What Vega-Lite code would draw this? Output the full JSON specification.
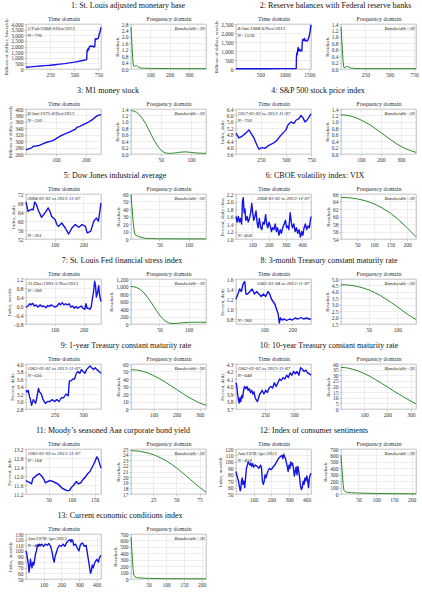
{
"$schema": "https://vega.github.io/schema/vega-lite/v6.json",
"padding": {"left": 3, "top": 1, "right": 0, "bottom": 0},
"bounds": "flush",
"columns": 4,
"spacing": {"row": 40, "column": 30},
"datasets": {
"t1": [{"x":1,"y":150},{"x":50,"y":190},{"x":100,"y":230},{"x":150,"y":270},{"x":200,"y":300},{"x":250,"y":330},{"x":300,"y":380},{"x":350,"y":430},{"x":400,"y":480},{"x":450,"y":540},{"x":500,"y":610},{"x":550,"y":690},{"x":600,"y":780},{"x":628,"y":830},{"x":631,"y":1500},{"x":634,"y":1700},{"x":638,"y":1600},{"x":642,"y":1800},{"x":648,"y":1700},{"x":655,"y":1950},{"x":665,"y":2050},{"x":675,"y":2000},{"x":690,"y":2050},{"x":700,"y":1950},{"x":712,"y":2000},{"x":716,"y":2650},{"x":722,"y":2700},{"x":730,"y":2650},{"x":740,"y":2700},{"x":748,"y":2750},{"x":755,"y":3000},{"x":762,"y":3200},{"x":770,"y":3450},{"x":776,"y":3700}],
"f1": [{"x":1,"y":2.6},{"x":3,"y":2.2},{"x":6,"y":1.5},{"x":9,"y":0.8},{"x":12,"y":0.35},{"x":15,"y":0.18},{"x":20,"y":0.15},{"x":25,"y":0.2},{"x":30,"y":0.22},{"x":35,"y":0.17},{"x":40,"y":0.1},{"x":50,"y":0.06},{"x":70,"y":0.05},{"x":100,"y":0.04},{"x":150,"y":0.03},{"x":200,"y":0.03},{"x":250,"y":0.02},{"x":300,"y":0.02},{"x":388,"y":0.02}],
"t2": [{"x":1,"y":15},{"x":300,"y":15},{"x":600,"y":18},{"x":900,"y":20},{"x":1100,"y":22},{"x":1235,"y":25},{"x":1240,"y":700},{"x":1250,"y":900},{"x":1258,"y":800},{"x":1265,"y":1050},{"x":1275,"y":1200},{"x":1285,"y":1000},{"x":1300,"y":1100},{"x":1315,"y":1000},{"x":1335,"y":1050},{"x":1350,"y":1000},{"x":1360,"y":1500},{"x":1372,"y":1650},{"x":1390,"y":1600},{"x":1405,"y":1700},{"x":1420,"y":1550},{"x":1440,"y":1600},{"x":1460,"y":1550},{"x":1480,"y":1650},{"x":1500,"y":1800},{"x":1520,"y":2100},{"x":1538,"y":2450}],
"f2": [{"x":1,"y":1.3},{"x":8,"y":1.0},{"x":15,"y":0.6},{"x":22,"y":0.25},{"x":30,"y":0.05},{"x":40,"y":0.04},{"x":55,"y":0.07},{"x":70,"y":0.08},{"x":85,"y":0.05},{"x":100,"y":0.03},{"x":130,"y":0.02},{"x":200,"y":0.01},{"x":769,"y":0.01}],
"t3": [{"x":1,"y":273},{"x":10,"y":276},{"x":20,"y":279},{"x":25,"y":284},{"x":35,"y":285},{"x":45,"y":287},{"x":55,"y":291},{"x":65,"y":295},{"x":75,"y":298},{"x":85,"y":300},{"x":95,"y":304},{"x":105,"y":310},{"x":115,"y":316},{"x":125,"y":320},{"x":135,"y":324},{"x":145,"y":328},{"x":155,"y":333},{"x":165,"y":337},{"x":170,"y":343},{"x":180,"y":346},{"x":190,"y":351},{"x":200,"y":355},{"x":210,"y":360},{"x":220,"y":366},{"x":230,"y":374},{"x":240,"y":380},{"x":250,"y":382}],
"f3": [{"x":1,"y":1.35},{"x":5,"y":1.34},{"x":10,"y":1.3},{"x":15,"y":1.22},{"x":20,"y":1.1},{"x":25,"y":0.95},{"x":30,"y":0.77},{"x":35,"y":0.58},{"x":40,"y":0.4},{"x":45,"y":0.25},{"x":50,"y":0.13},{"x":55,"y":0.06},{"x":60,"y":0.025},{"x":65,"y":0.02},{"x":70,"y":0.025},{"x":75,"y":0.035},{"x":80,"y":0.05},{"x":85,"y":0.06},{"x":90,"y":0.065},{"x":95,"y":0.06},{"x":100,"y":0.05},{"x":105,"y":0.04},{"x":110,"y":0.03},{"x":115,"y":0.025},{"x":125,"y":0.02}],
"t4": [{"x":1,"y":4.9},{"x":30,"y":4.6},{"x":60,"y":4.7},{"x":100,"y":4.9},{"x":130,"y":5.1},{"x":150,"y":4.9},{"x":180,"y":4.6},{"x":200,"y":4.3},{"x":230,"y":3.9},{"x":260,"y":4.0},{"x":290,"y":3.95},{"x":320,"y":4.1},{"x":350,"y":4.2},{"x":380,"y":4.3},{"x":410,"y":4.45},{"x":440,"y":4.7},{"x":470,"y":4.9},{"x":500,"y":5.1},{"x":520,"y":5.4},{"x":550,"y":5.6},{"x":580,"y":5.5},{"x":600,"y":5.7},{"x":630,"y":5.8},{"x":650,"y":6.0},{"x":670,"y":5.85},{"x":690,"y":5.6},{"x":710,"y":5.7},{"x":730,"y":5.9},{"x":750,"y":6.1}],
"f4": [{"x":1,"y":1.22},{"x":25,"y":1.21},{"x":50,"y":1.18},{"x":75,"y":1.13},{"x":100,"y":1.06},{"x":125,"y":0.98},{"x":150,"y":0.89},{"x":175,"y":0.78},{"x":200,"y":0.67},{"x":225,"y":0.55},{"x":250,"y":0.44},{"x":275,"y":0.33},{"x":300,"y":0.24},{"x":325,"y":0.16},{"x":350,"y":0.1},{"x":375,"y":0.05}],
"t5": [{"x":1,"y":68.5},{"x":8,"y":64.3},{"x":14,"y":64.8},{"x":20,"y":65.2},{"x":26,"y":65},{"x":31,"y":68.5},{"x":37,"y":67.3},{"x":43,"y":65},{"x":55,"y":61.6},{"x":67,"y":63.6},{"x":78,"y":65.8},{"x":84,"y":64.3},{"x":90,"y":62},{"x":96,"y":61.3},{"x":102,"y":60.6},{"x":108,"y":58.4},{"x":113,"y":57.6},{"x":125,"y":59.1},{"x":137,"y":56.9},{"x":149,"y":54.2},{"x":160,"y":56.9},{"x":172,"y":58.4},{"x":184,"y":57.2},{"x":195,"y":58.4},{"x":207,"y":57.6},{"x":213,"y":54.7},{"x":225,"y":55.4},{"x":236,"y":59.9},{"x":245,"y":61.3},{"x":252,"y":59.9},{"x":261,"y":68}],
"f5": [{"x":1,"y":59},{"x":3,"y":40},{"x":5,"y":20},{"x":7,"y":8},{"x":9,"y":5},{"x":12,"y":4},{"x":15,"y":3},{"x":20,"y":2},{"x":25,"y":1},{"x":35,"y":0.6},{"x":50,"y":0.3},{"x":80,"y":0.2},{"x":130,"y":0.1}],
"t6": [{"x":1,"y":1.6},{"x":8,"y":1.45},{"x":15,"y":1.6},{"x":22,"y":1.45},{"x":28,"y":1.55},{"x":35,"y":1.4},{"x":40,"y":2.0},{"x":45,"y":2.1},{"x":50,"y":1.7},{"x":55,"y":1.8},{"x":60,"y":1.5},{"x":68,"y":1.6},{"x":75,"y":1.45},{"x":82,"y":1.55},{"x":90,"y":1.7},{"x":96,"y":1.95},{"x":102,"y":1.7},{"x":108,"y":1.5},{"x":115,"y":1.6},{"x":122,"y":1.75},{"x":128,"y":1.45},{"x":135,"y":1.3},{"x":142,"y":1.55},{"x":150,"y":1.3},{"x":157,"y":1.25},{"x":164,"y":1.45},{"x":172,"y":1.4},{"x":180,"y":1.65},{"x":186,"y":1.4},{"x":193,"y":1.3},{"x":200,"y":1.45},{"x":208,"y":1.35},{"x":215,"y":1.2},{"x":222,"y":1.3},{"x":230,"y":1.25},{"x":238,"y":1.4},{"x":245,"y":1.2},{"x":252,"y":1.3},{"x":260,"y":1.1},{"x":268,"y":1.25},{"x":275,"y":1.15},{"x":283,"y":1.3},{"x":292,"y":1.4},{"x":300,"y":1.5},{"x":306,"y":1.3},{"x":313,"y":1.35},{"x":320,"y":1.25},{"x":328,"y":1.7},{"x":335,"y":1.45},{"x":342,"y":1.3},{"x":350,"y":1.4},{"x":358,"y":1.2},{"x":366,"y":1.3},{"x":374,"y":1.15},{"x":382,"y":1.25},{"x":390,"y":1.05},{"x":398,"y":1.2},{"x":405,"y":1.1},{"x":412,"y":1.3},{"x":420,"y":1.4},{"x":428,"y":1.25},{"x":436,"y":1.35},{"x":444,"y":1.3},{"x":450,"y":1.5},{"x":454,"y":1.6}],
"f6": [{"x":1,"y":65.1},{"x":25,"y":65.0},{"x":50,"y":64.7},{"x":75,"y":64.2},{"x":100,"y":63.4},{"x":125,"y":62.3},{"x":150,"y":60.9},{"x":175,"y":59.1},{"x":200,"y":57.0},{"x":227,"y":54.6}],
"t7": [{"x":1,"y":-0.05},{"x":8,"y":0.0},{"x":14,"y":0.1},{"x":18,"y":0.05},{"x":24,"y":0.12},{"x":30,"y":0.0},{"x":36,"y":0.05},{"x":42,"y":-0.05},{"x":50,"y":0.05},{"x":56,"y":-0.02},{"x":62,"y":0.0},{"x":70,"y":-0.08},{"x":76,"y":0.02},{"x":82,"y":-0.02},{"x":88,"y":0.05},{"x":95,"y":0.0},{"x":100,"y":-0.05},{"x":108,"y":0.0},{"x":115,"y":0.12},{"x":120,"y":0.05},{"x":126,"y":0.15},{"x":132,"y":0.05},{"x":138,"y":0.1},{"x":144,"y":0.05},{"x":150,"y":0.1},{"x":156,"y":-0.05},{"x":162,"y":0.0},{"x":168,"y":-0.1},{"x":174,"y":-0.02},{"x":180,"y":-0.1},{"x":186,"y":-0.05},{"x":192,"y":0.0},{"x":198,"y":-0.1},{"x":204,"y":-0.15},{"x":208,"y":0.1},{"x":212,"y":-0.1},{"x":216,"y":-0.1},{"x":222,"y":-0.15},{"x":226,"y":-0.05},{"x":230,"y":0.3},{"x":234,"y":0.6},{"x":238,"y":1.1},{"x":241,"y":0.9},{"x":244,"y":0.4},{"x":248,"y":0.6},{"x":252,"y":0.9},{"x":255,"y":0.5},{"x":258,"y":0.3},{"x":260,"y":0.2}],
"f7": [{"x":1,"y":1000},{"x":5,"y":995},{"x":10,"y":975},{"x":15,"y":940},{"x":20,"y":880},{"x":25,"y":800},{"x":30,"y":700},{"x":35,"y":590},{"x":40,"y":470},{"x":45,"y":350},{"x":50,"y":240},{"x":55,"y":150},{"x":60,"y":80},{"x":65,"y":35},{"x":70,"y":15},{"x":75,"y":12},{"x":80,"y":18},{"x":90,"y":35},{"x":100,"y":45},{"x":110,"y":48},{"x":120,"y":47},{"x":130,"y":45}],
"t8": [{"x":1,"y":1.2},{"x":8,"y":1.3},{"x":14,"y":1.4},{"x":20,"y":1.35},{"x":26,"y":1.5},{"x":32,"y":1.55},{"x":36,"y":1.3},{"x":42,"y":1.3},{"x":50,"y":1.35},{"x":58,"y":1.4},{"x":66,"y":1.3},{"x":74,"y":1.35},{"x":82,"y":1.3},{"x":90,"y":1.25},{"x":98,"y":1.3},{"x":106,"y":1.25},{"x":114,"y":1.35},{"x":120,"y":1.3},{"x":126,"y":1.2},{"x":132,"y":1.15},{"x":138,"y":1.1},{"x":144,"y":1.0},{"x":150,"y":0.9},{"x":154,"y":0.72},{"x":158,"y":0.82},{"x":164,"y":0.78},{"x":172,"y":0.8},{"x":180,"y":0.77},{"x":190,"y":0.8},{"x":200,"y":0.78},{"x":210,"y":0.82},{"x":220,"y":0.8},{"x":230,"y":0.83},{"x":240,"y":0.8},{"x":250,"y":0.82},{"x":258,"y":0.8},{"x":266,"y":0.8}],
"f8": [{"x":1,"y":4.55},{"x":10,"y":4.54},{"x":20,"y":4.5},{"x":30,"y":4.42},{"x":40,"y":4.3},{"x":50,"y":4.15},{"x":60,"y":3.95},{"x":70,"y":3.72},{"x":80,"y":3.45},{"x":90,"y":3.15},{"x":100,"y":2.85},{"x":110,"y":2.52},{"x":120,"y":2.2},{"x":133,"y":1.85}],
"t9": [{"x":1,"y":3.3},{"x":10,"y":3.25},{"x":20,"y":3.3},{"x":30,"y":3.15},{"x":40,"y":3.05},{"x":50,"y":2.9},{"x":55,"y":2.95},{"x":65,"y":3.05},{"x":75,"y":3.0},{"x":85,"y":2.95},{"x":95,"y":3.1},{"x":110,"y":3.35},{"x":120,"y":3.25},{"x":135,"y":3.2},{"x":150,"y":3.05},{"x":170,"y":2.95},{"x":190,"y":3.0},{"x":210,"y":3.0},{"x":230,"y":3.05},{"x":250,"y":3.0},{"x":270,"y":3.05},{"x":290,"y":3.0},{"x":310,"y":3.1},{"x":330,"y":3.1},{"x":350,"y":3.2},{"x":370,"y":3.15},{"x":380,"y":3.55},{"x":395,"y":3.55},{"x":410,"y":3.6},{"x":425,"y":3.6},{"x":440,"y":3.75},{"x":455,"y":3.8},{"x":470,"y":3.75},{"x":485,"y":3.85},{"x":500,"y":3.8},{"x":515,"y":3.75},{"x":530,"y":3.85},{"x":545,"y":3.9},{"x":560,"y":3.95},{"x":575,"y":3.9},{"x":590,"y":3.85},{"x":605,"y":3.9},{"x":620,"y":3.85},{"x":640,"y":3.8},{"x":656,"y":3.75}],
"f9": [{"x":1,"y":52.5},{"x":25,"y":52},{"x":50,"y":50.5},{"x":75,"y":48},{"x":100,"y":44.5},{"x":125,"y":40.5},{"x":150,"y":36},{"x":175,"y":31},{"x":200,"y":26},{"x":225,"y":21},{"x":250,"y":16},{"x":275,"y":12},{"x":300,"y":8},{"x":328,"y":5}],
"t10": [{"x":1,"y":4.05},{"x":8,"y":4.0},{"x":15,"y":3.9},{"x":22,"y":3.82},{"x":28,"y":3.78},{"x":35,"y":3.85},{"x":42,"y":3.8},{"x":50,"y":3.88},{"x":58,"y":3.85},{"x":66,"y":3.95},{"x":75,"y":4.0},{"x":85,"y":3.97},{"x":95,"y":4.0},{"x":105,"y":3.95},{"x":115,"y":3.97},{"x":125,"y":3.92},{"x":135,"y":3.95},{"x":145,"y":3.9},{"x":155,"y":3.93},{"x":165,"y":3.85},{"x":175,"y":3.82},{"x":185,"y":3.8},{"x":195,"y":3.85},{"x":205,"y":3.9},{"x":215,"y":3.92},{"x":225,"y":3.95},{"x":240,"y":3.9},{"x":255,"y":3.95},{"x":270,"y":3.92},{"x":285,"y":3.98},{"x":300,"y":4.0},{"x":315,"y":3.98},{"x":330,"y":4.05},{"x":345,"y":4.0},{"x":360,"y":4.05},{"x":375,"y":4.1},{"x":390,"y":4.08},{"x":405,"y":4.12},{"x":420,"y":4.1},{"x":435,"y":4.15},{"x":450,"y":4.12},{"x":465,"y":4.18},{"x":480,"y":4.15},{"x":495,"y":4.2},{"x":510,"y":4.17},{"x":525,"y":4.2},{"x":540,"y":4.15},{"x":555,"y":4.25},{"x":570,"y":4.23},{"x":585,"y":4.2},{"x":600,"y":4.22},{"x":615,"y":4.18},{"x":630,"y":4.17},{"x":644,"y":4.15}],
"f10": [{"x":1,"y":37},{"x":25,"y":36.6},{"x":50,"y":35.5},{"x":75,"y":33.8},{"x":100,"y":31.6},{"x":125,"y":29},{"x":150,"y":26},{"x":175,"y":22.8},{"x":200,"y":19.5},{"x":225,"y":16.2},{"x":250,"y":13},{"x":275,"y":10},{"x":300,"y":7},{"x":322,"y":4.5}],
"t11": [{"x":1,"y":11.8},{"x":5,"y":11.75},{"x":10,"y":11.7},{"x":13,"y":11.65},{"x":16,"y":11.9},{"x":20,"y":11.95},{"x":25,"y":12.05},{"x":30,"y":12.1},{"x":35,"y":12.0},{"x":40,"y":11.85},{"x":43,"y":11.7},{"x":48,"y":11.75},{"x":53,"y":11.8},{"x":60,"y":11.75},{"x":65,"y":11.7},{"x":70,"y":11.65},{"x":75,"y":11.55},{"x":80,"y":11.45},{"x":85,"y":11.4},{"x":90,"y":11.35},{"x":95,"y":11.35},{"x":100,"y":11.5},{"x":105,"y":11.6},{"x":110,"y":11.75},{"x":115,"y":11.65},{"x":120,"y":11.7},{"x":125,"y":11.85},{"x":130,"y":11.95},{"x":135,"y":12.1},{"x":140,"y":12.2},{"x":145,"y":12.4},{"x":150,"y":12.6},{"x":155,"y":12.85},{"x":158,"y":12.75},{"x":161,"y":12.55},{"x":164,"y":12.35}],
"f11": [{"x":1,"y":24.7},{"x":5,"y":24.68},{"x":10,"y":24.6},{"x":15,"y":24.45},{"x":20,"y":24.25},{"x":25,"y":24.0},{"x":30,"y":23.65},{"x":35,"y":23.25},{"x":40,"y":22.8},{"x":45,"y":22.25},{"x":50,"y":21.65},{"x":55,"y":21.0},{"x":60,"y":20.3},{"x":65,"y":19.6},{"x":70,"y":18.9},{"x":75,"y":18.2},{"x":82,"y":17.3}],
"t12": [{"x":1,"y":85},{"x":5,"y":80},{"x":10,"y":75},{"x":15,"y":70},{"x":20,"y":62},{"x":25,"y":55},{"x":28,"y":58},{"x":32,"y":70},{"x":36,"y":75},{"x":40,"y":65},{"x":45,"y":70},{"x":50,"y":60},{"x":55,"y":75},{"x":60,"y":90},{"x":65,"y":95},{"x":70,"y":100},{"x":75,"y":97},{"x":80,"y":95},{"x":85,"y":98},{"x":90,"y":93},{"x":95,"y":97},{"x":100,"y":92},{"x":110,"y":95},{"x":120,"y":93},{"x":130,"y":90},{"x":140,"y":95},{"x":145,"y":90},{"x":150,"y":70},{"x":155,"y":65},{"x":160,"y":70},{"x":165,"y":80},{"x":170,"y":75},{"x":180,"y":85},{"x":190,"y":90},{"x":200,"y":88},{"x":210,"y":92},{"x":220,"y":95},{"x":230,"y":100},{"x":240,"y":105},{"x":250,"y":108},{"x":260,"y":110},{"x":265,"y":105},{"x":270,"y":112},{"x":280,"y":105},{"x":290,"y":93},{"x":295,"y":85},{"x":300,"y":95},{"x":305,"y":90},{"x":310,"y":100},{"x":315,"y":95},{"x":320,"y":98},{"x":325,"y":90},{"x":330,"y":78},{"x":335,"y":85},{"x":340,"y":92},{"x":345,"y":80},{"x":350,"y":93},{"x":355,"y":85},{"x":360,"y":75},{"x":365,"y":62},{"x":370,"y":57},{"x":375,"y":60},{"x":380,"y":70},{"x":385,"y":65},{"x":390,"y":75},{"x":395,"y":70},{"x":400,"y":78},{"x":405,"y":72},{"x":410,"y":60},{"x":415,"y":75},{"x":420,"y":80},{"x":424,"y":82}],
"f12": [{"x":1,"y":600},{"x":3,"y":450},{"x":5,"y":300},{"x":7,"y":150},{"x":9,"y":60},{"x":12,"y":40},{"x":16,"y":30},{"x":20,"y":25},{"x":30,"y":20},{"x":50,"y":15},{"x":100,"y":8},{"x":150,"y":5},{"x":212,"y":3}],
"t13": [{"x":1,"y":100},{"x":5,"y":95},{"x":10,"y":85},{"x":15,"y":75},{"x":18,"y":62},{"x":22,"y":70},{"x":26,"y":85},{"x":30,"y":78},{"x":35,"y":70},{"x":40,"y":80},{"x":45,"y":75},{"x":50,"y":85},{"x":55,"y":95},{"x":60,"y":100},{"x":65,"y":110},{"x":70,"y":108},{"x":75,"y":112},{"x":80,"y":110},{"x":90,"y":112},{"x":100,"y":108},{"x":110,"y":112},{"x":120,"y":110},{"x":130,"y":113},{"x":140,"y":108},{"x":150,"y":95},{"x":155,"y":85},{"x":160,"y":80},{"x":165,"y":90},{"x":170,"y":95},{"x":175,"y":100},{"x":180,"y":105},{"x":190,"y":110},{"x":200,"y":108},{"x":210,"y":112},{"x":220,"y":108},{"x":230,"y":115},{"x":240,"y":118},{"x":250,"y":120},{"x":255,"y":116},{"x":260,"y":120},{"x":265,"y":118},{"x":270,"y":110},{"x":280,"y":112},{"x":290,"y":105},{"x":300,"y":100},{"x":305,"y":108},{"x":310,"y":112},{"x":320,"y":114},{"x":330,"y":108},{"x":340,"y":110},{"x":345,"y":100},{"x":350,"y":90},{"x":355,"y":80},{"x":360,"y":70},{"x":365,"y":60},{"x":370,"y":65},{"x":375,"y":75},{"x":380,"y":70},{"x":390,"y":80},{"x":400,"y":85},{"x":410,"y":80},{"x":415,"y":88},{"x":420,"y":90},{"x":424,"y":92}],
"f13": [{"x":1,"y":650},{"x":3,"y":500},{"x":5,"y":300},{"x":7,"y":150},{"x":9,"y":60},{"x":12,"y":35},{"x":16,"y":25},{"x":20,"y":20},{"x":30,"y":15},{"x":50,"y":10},{"x":100,"y":5},{"x":150,"y":4},{"x":212,"y":3}]
},
"concat": [
{"width":75,"height":45,"title":{"text":"1: St. Louis adjusted monetary base","dx":64.5},
 "layer":[
  {"data":{"name":"t1"},"mark":{"type":"line","color":"#1414e6","strokeWidth":1.4},
   "encoding":{"x":{"field":"x","type":"quantitative","scale":{"domain":[1,776],"nice":false,"zero":false},"axis":{"orient":"bottom","values":[250,500,750],"format":"d","title":null}},
    "y":{"field":"y","type":"quantitative","scale":{"domain":[0,4000],"nice":false,"zero":false},"axis":{"values":[0,500,1000,1500,2000,2500,3000,3500,4000],"format":",d","title":"Billions of dollars, biweekly"}}}},
  {"data":{"values":[{}]},"mark":{"type":"text","text":"1/Feb/1984-9/Oct/2013\nN=776","lineBreak":"\n","align":"left","baseline":"top","dx":1.5,"dy":1.5},
   "encoding":{"x":{"datum":1,"type":"quantitative","axis":{"orient":"top","title":"Time domain","labels":false,"ticks":false,"domain":false,"grid":false}},"y":{"datum":4000,"type":"quantitative","axis":{"values":[0,500,1000,1500,2000,2500,3000,3500,4000],"format":",d","title":"Billions of dollars, biweekly"}}}}
 ]},
{"width":75,"height":45,
 "layer":[
  {"data":{"name":"f1"},"mark":{"type":"line","color":"#2e8b2e","strokeWidth":1},
   "encoding":{"x":{"field":"x","type":"quantitative","scale":{"domain":[1,388],"nice":false,"zero":false},"axis":{"orient":"bottom","values":[100,200,300],"format":"d","title":null}},
    "y":{"field":"y","type":"quantitative","scale":{"domain":[0,2.8],"nice":false,"zero":false},"axis":{"values":[0,0.4,0.8,1.2,1.6,2.0,2.4,2.8],"format":".1f","title":"Residuals"}}}},
  {"data":{"values":[{}]},"mark":{"type":"text","text":"Bandwidth=20","align":"right","baseline":"top","dx":-1.5,"dy":1.5},
   "encoding":{"x":{"datum":388,"type":"quantitative","axis":{"orient":"top","title":"Frequency domain","labels":false,"ticks":false,"domain":false,"grid":false}},"y":{"datum":2.8,"type":"quantitative","axis":{"values":[0,0.4,0.8,1.2,1.6,2.0,2.4,2.8],"format":".1f","title":"Residuals"}}}}
 ]},
{"width":75,"height":45,"title":{"text":"2: Reserve balances with Federal reserve banks","dx":62},
 "layer":[
  {"data":{"name":"t2"},"mark":{"type":"line","color":"#1414e6","strokeWidth":1.4},
   "encoding":{"x":{"field":"x","type":"quantitative","scale":{"domain":[1,1538],"nice":false,"zero":false},"axis":{"orient":"bottom","values":[500,1000,1500],"format":"d","title":null}},
    "y":{"field":"y","type":"quantitative","scale":{"domain":[0,2500],"nice":false,"zero":false},"axis":{"values":[0,500,1000,1500,2000,2500],"format":",d","title":"Billions of dollars, weekly"}}}},
  {"data":{"values":[{}]},"mark":{"type":"text","text":"4/Jan/1984-6/Nov/2013\nN=1538","lineBreak":"\n","align":"left","baseline":"top","dx":1.5,"dy":1.5},
   "encoding":{"x":{"datum":1,"type":"quantitative","axis":{"orient":"top","title":"Time domain","labels":false,"ticks":false,"domain":false,"grid":false}},"y":{"datum":2500,"type":"quantitative","axis":{"values":[0,500,1000,1500,2000,2500],"format":",d","title":"Billions of dollars, weekly"}}}}
 ]},
{"width":75,"height":45,
 "layer":[
  {"data":{"name":"f2"},"mark":{"type":"line","color":"#2e8b2e","strokeWidth":1},
   "encoding":{"x":{"field":"x","type":"quantitative","scale":{"domain":[1,769],"nice":false,"zero":false},"axis":{"orient":"bottom","values":[250,500,750],"format":"d","title":null}},
    "y":{"field":"y","type":"quantitative","scale":{"domain":[0,1.4],"nice":false,"zero":false},"axis":{"values":[0,0.2,0.4,0.6,0.8,1.0,1.2,1.4],"format":".1f","title":"Residuals"}}}},
  {"data":{"values":[{}]},"mark":{"type":"text","text":"Bandwidth=20","align":"right","baseline":"top","dx":-1.5,"dy":1.5},
   "encoding":{"x":{"datum":769,"type":"quantitative","axis":{"orient":"top","title":"Frequency domain","labels":false,"ticks":false,"domain":false,"grid":false}},"y":{"datum":1.4,"type":"quantitative","axis":{"values":[0,0.2,0.4,0.6,0.8,1.0,1.2,1.4],"format":".1f","title":"Residuals"}}}}
 ]},
{"width":75,"height":45,"title":{"text":"3: M1 money stock","dx":44.5},
 "layer":[
  {"data":{"name":"t3"},"mark":{"type":"line","color":"#1414e6","strokeWidth":1.4},
   "encoding":{"x":{"field":"x","type":"quantitative","scale":{"domain":[1,250],"nice":false,"zero":false},"axis":{"orient":"bottom","values":[100,200],"format":"d","title":null}},
    "y":{"field":"y","type":"quantitative","scale":{"domain":[260,400],"nice":false,"zero":false},"axis":{"values":[260,280,300,320,340,360,380,400],"format":"d","title":"Billions of dollars, weekly"}}}},
  {"data":{"values":[{}]},"mark":{"type":"text","text":"8/Jan/1975-8/Oct/2013\nN=250","lineBreak":"\n","align":"left","baseline":"top","dx":1.5,"dy":1.5},
   "encoding":{"x":{"datum":1,"type":"quantitative","axis":{"orient":"top","title":"Time domain","labels":false,"ticks":false,"domain":false,"grid":false}},"y":{"datum":400,"type":"quantitative","axis":{"values":[260,280,300,320,340,360,380,400],"format":"d","title":"Billions of dollars, weekly"}}}}
 ]},
{"width":75,"height":45,
 "layer":[
  {"data":{"name":"f3"},"mark":{"type":"line","color":"#2e8b2e","strokeWidth":1},
   "encoding":{"x":{"field":"x","type":"quantitative","scale":{"domain":[1,125],"nice":false,"zero":false},"axis":{"orient":"bottom","values":[50,100],"format":"d","title":null}},
    "y":{"field":"y","type":"quantitative","scale":{"domain":[0,1.4],"nice":false,"zero":false},"axis":{"values":[0,0.2,0.4,0.6,0.8,1.0,1.2,1.4],"format":".1f","title":"Residuals"}}}},
  {"data":{"values":[{}]},"mark":{"type":"text","text":"Bandwidth=20","align":"right","baseline":"top","dx":-1.5,"dy":1.5},
   "encoding":{"x":{"datum":125,"type":"quantitative","axis":{"orient":"top","title":"Frequency domain","labels":false,"ticks":false,"domain":false,"grid":false}},"y":{"datum":1.4,"type":"quantitative","axis":{"values":[0,0.2,0.4,0.6,0.8,1.0,1.2,1.4],"format":".1f","title":"Residuals"}}}}
 ]},
{"width":75,"height":45,"title":{"text":"4: S&P 500 stock price index","dx":44.5},
 "layer":[
  {"data":{"name":"t4"},"mark":{"type":"line","color":"#1414e6","strokeWidth":1.4},
   "encoding":{"x":{"field":"x","type":"quantitative","scale":{"domain":[1,750],"nice":false,"zero":false},"axis":{"orient":"bottom","values":[250,500,750],"format":"d","title":null}},
    "y":{"field":"y","type":"quantitative","scale":{"domain":[3.6,6.4],"nice":false,"zero":false},"axis":{"values":[3.6,4.0,4.4,4.8,5.2,5.6,6.0,6.4],"format":".1f","title":"Index, daily"}}}},
  {"data":{"values":[{}]},"mark":{"type":"text","text":"1957-01-02 to 2013-11-07\nN=750","lineBreak":"\n","align":"left","baseline":"top","dx":1.5,"dy":1.5},
   "encoding":{"x":{"datum":1,"type":"quantitative","axis":{"orient":"top","title":"Time domain","labels":false,"ticks":false,"domain":false,"grid":false}},"y":{"datum":6.4,"type":"quantitative","axis":{"values":[3.6,4.0,4.4,4.8,5.2,5.6,6.0,6.4],"format":".1f","title":"Index, daily"}}}}
 ]},
{"width":75,"height":45,
 "layer":[
  {"data":{"name":"f4"},"mark":{"type":"line","color":"#2e8b2e","strokeWidth":1},
   "encoding":{"x":{"field":"x","type":"quantitative","scale":{"domain":[1,375],"nice":false,"zero":false},"axis":{"orient":"bottom","values":[100,200,300],"format":"d","title":null}},
    "y":{"field":"y","type":"quantitative","scale":{"domain":[0,1.4],"nice":false,"zero":false},"axis":{"values":[0,0.2,0.4,0.6,0.8,1.0,1.2,1.4],"format":".1f","title":"Residuals"}}}},
  {"data":{"values":[{}]},"mark":{"type":"text","text":"Bandwidth=20","align":"right","baseline":"top","dx":-1.5,"dy":1.5},
   "encoding":{"x":{"datum":375,"type":"quantitative","axis":{"orient":"top","title":"Frequency domain","labels":false,"ticks":false,"domain":false,"grid":false}},"y":{"datum":1.4,"type":"quantitative","axis":{"values":[0,0.2,0.4,0.6,0.8,1.0,1.2,1.4],"format":".1f","title":"Residuals"}}}}
 ]},
{"width":75,"height":45,"title":{"text":"5: Dow Jones industrial average","dx":51.5},
 "layer":[
  {"data":{"name":"t5"},"mark":{"type":"line","color":"#1414e6","strokeWidth":1.4},
   "encoding":{"x":{"field":"x","type":"quantitative","scale":{"domain":[1,261],"nice":false,"zero":false},"axis":{"orient":"bottom","values":[100,200],"format":"d","title":null}},
    "y":{"field":"y","type":"quantitative","scale":{"domain":[52,72],"nice":false,"zero":false},"axis":{"values":[52,56,60,64,68,72],"format":"d","title":"Index, daily"}}}},
  {"data":{"values":[{}]},"mark":{"type":"text","text":"2004-01-02 to 2013-11-07","align":"left","baseline":"top","dx":1.5,"dy":1.5},
   "encoding":{"x":{"datum":1,"type":"quantitative","axis":{"orient":"top","title":"Time domain","labels":false,"ticks":false,"domain":false,"grid":false}},"y":{"datum":72,"type":"quantitative","axis":{"values":[52,56,60,64,68,72],"format":"d","title":"Index, daily"}}}},
  {"data":{"values":[{}]},"mark":{"type":"text","text":"N=261","align":"left","baseline":"bottom","dx":1.5,"dy":-1},
   "encoding":{"x":{"datum":1,"type":"quantitative","axis":null},"y":{"datum":52,"type":"quantitative","axis":{"values":[52,56,60,64,68,72],"format":"d","title":"Index, daily"}}}}
 ]},
{"width":75,"height":45,
 "layer":[
  {"data":{"name":"f5"},"mark":{"type":"line","color":"#2e8b2e","strokeWidth":1},
   "encoding":{"x":{"field":"x","type":"quantitative","scale":{"domain":[1,130],"nice":false,"zero":false},"axis":{"orient":"bottom","values":[50,100],"format":"d","title":null}},
    "y":{"field":"y","type":"quantitative","scale":{"domain":[0,60],"nice":false,"zero":false},"axis":{"values":[0,10,20,30,40,50,60],"format":"d","title":"Residuals"}}}},
  {"data":{"values":[{}]},"mark":{"type":"text","text":"Bandwidth=20","align":"right","baseline":"top","dx":-1.5,"dy":1.5},
   "encoding":{"x":{"datum":130,"type":"quantitative","axis":{"orient":"top","title":"Frequency domain","labels":false,"ticks":false,"domain":false,"grid":false}},"y":{"datum":60,"type":"quantitative","axis":{"values":[0,10,20,30,40,50,60],"format":"d","title":"Residuals"}}}}
 ]},
{"width":75,"height":45,"title":{"text":"6: CBOE volatility index: VIX","dx":41.5},
 "layer":[
  {"data":{"name":"t6"},"mark":{"type":"line","color":"#1414e6","strokeWidth":1.4},
   "encoding":{"x":{"field":"x","type":"quantitative","scale":{"domain":[1,454],"nice":false,"zero":false},"axis":{"orient":"bottom","values":[100,200,300,400],"format":"d","title":null}},
    "y":{"field":"y","type":"quantitative","scale":{"domain":[1.0,2.2],"nice":false,"zero":false},"axis":{"values":[1.0,1.2,1.4,1.6,1.8,2.0,2.2],"format":".1f","title":"Percent, daily close"}}}},
  {"data":{"values":[{}]},"mark":{"type":"text","text":"2004-01-02 to 2013-11-07","align":"right","baseline":"top","dx":-1.5,"dy":1.5},
   "encoding":{"x":{"datum":454,"type":"quantitative","axis":{"orient":"top","title":"Time domain","labels":false,"ticks":false,"domain":false,"grid":false}},"y":{"datum":2.2,"type":"quantitative","axis":{"values":[1.0,1.2,1.4,1.6,1.8,2.0,2.2],"format":".1f","title":"Percent, daily close"}}}},
  {"data":{"values":[{}]},"mark":{"type":"text","text":"N=454","align":"left","baseline":"bottom","dx":1.5,"dy":-1},
   "encoding":{"x":{"datum":1,"type":"quantitative","axis":null},"y":{"datum":1.0,"type":"quantitative","axis":{"values":[1.0,1.2,1.4,1.6,1.8,2.0,2.2],"format":".1f","title":"Percent, daily close"}}}}
 ]},
{"width":75,"height":45,
 "layer":[
  {"data":{"name":"f6"},"mark":{"type":"line","color":"#2e8b2e","strokeWidth":1},
   "encoding":{"x":{"field":"x","type":"quantitative","scale":{"domain":[1,227],"nice":false,"zero":false},"axis":{"orient":"bottom","values":[50,100,150,200],"format":"d","title":null}},
    "y":{"field":"y","type":"quantitative","scale":{"domain":[54,66],"nice":false,"zero":false},"axis":{"values":[54,56,58,60,62,64,66],"format":"d","title":"Residuals"}}}},
  {"data":{"values":[{}]},"mark":{"type":"text","text":"Bandwidth=20","align":"right","baseline":"top","dx":-1.5,"dy":1.5},
   "encoding":{"x":{"datum":227,"type":"quantitative","axis":{"orient":"top","title":"Frequency domain","labels":false,"ticks":false,"domain":false,"grid":false}},"y":{"datum":66,"type":"quantitative","axis":{"values":[54,56,58,60,62,64,66],"format":"d","title":"Residuals"}}}}
 ]},
{"width":75,"height":45,"title":{"text":"7: St. Louis Fed financial stress index","dx":58.5},
 "layer":[
  {"data":{"name":"t7"},"mark":{"type":"line","color":"#1414e6","strokeWidth":1.4},
   "encoding":{"x":{"field":"x","type":"quantitative","scale":{"domain":[1,260],"nice":false,"zero":false},"axis":{"orient":"bottom","values":[100,200],"format":"d","title":null}},
    "y":{"field":"y","type":"quantitative","scale":{"domain":[-0.8,1.2],"nice":false,"zero":false},"axis":{"values":[-0.8,-0.4,0,0.4,0.8,1.2],"format":".1f","title":"Index, weekly"}}}},
  {"data":{"values":[{}]},"mark":{"type":"text","text":"31/Dec/1993-1/Nov/2013\nN=260","lineBreak":"\n","align":"left","baseline":"top","dx":1.5,"dy":1.5},
   "encoding":{"x":{"datum":1,"type":"quantitative","axis":{"orient":"top","title":"Time domain","labels":false,"ticks":false,"domain":false,"grid":false}},"y":{"datum":1.2,"type":"quantitative","axis":{"values":[-0.8,-0.4,0,0.4,0.8,1.2],"format":".1f","title":"Index, weekly"}}}}
 ]},
{"width":75,"height":45,
 "layer":[
  {"data":{"name":"f7"},"mark":{"type":"line","color":"#2e8b2e","strokeWidth":1},
   "encoding":{"x":{"field":"x","type":"quantitative","scale":{"domain":[1,130],"nice":false,"zero":false},"axis":{"orient":"bottom","values":[50,100],"format":"d","title":null}},
    "y":{"field":"y","type":"quantitative","scale":{"domain":[0,1200],"nice":false,"zero":false},"axis":{"values":[0,200,400,600,800,1000,1200],"format":",d","title":"Residuals"}}}},
  {"data":{"values":[{}]},"mark":{"type":"text","text":"Bandwidth=20","align":"right","baseline":"top","dx":-1.5,"dy":1.5},
   "encoding":{"x":{"datum":130,"type":"quantitative","axis":{"orient":"top","title":"Frequency domain","labels":false,"ticks":false,"domain":false,"grid":false}},"y":{"datum":1200,"type":"quantitative","axis":{"values":[0,200,400,600,800,1000,1200],"format":",d","title":"Residuals"}}}}
 ]},
{"width":75,"height":45,"title":{"text":"8: 3-month Treasury constant maturity rate","dx":55.5},
 "layer":[
  {"data":{"name":"t8"},"mark":{"type":"line","color":"#1414e6","strokeWidth":1.4},
   "encoding":{"x":{"field":"x","type":"quantitative","scale":{"domain":[1,266],"nice":false,"zero":false},"axis":{"orient":"bottom","values":[100,200],"format":"d","title":null}},
    "y":{"field":"y","type":"quantitative","scale":{"domain":[0.7,1.6],"nice":false,"zero":false},"axis":{"values":[0.8,1.0,1.2,1.4,1.6],"format":".1f","title":"Percent, daily"}}}},
  {"data":{"values":[{}]},"mark":{"type":"text","text":"1982-01-04 to 2013-11-07","align":"right","baseline":"top","dx":-1.5,"dy":1.5},
   "encoding":{"x":{"datum":266,"type":"quantitative","axis":{"orient":"top","title":"Time domain","labels":false,"ticks":false,"domain":false,"grid":false}},"y":{"datum":1.6,"type":"quantitative","axis":{"values":[0.8,1.0,1.2,1.4,1.6],"format":".1f","title":"Percent, daily"}}}},
  {"data":{"values":[{}]},"mark":{"type":"text","text":"N=266","align":"left","baseline":"bottom","dx":1.5,"dy":-1},
   "encoding":{"x":{"datum":1,"type":"quantitative","axis":null},"y":{"datum":0.7,"type":"quantitative","axis":{"values":[0.8,1.0,1.2,1.4,1.6],"format":".1f","title":"Percent, daily"}}}}
 ]},
{"width":75,"height":45,
 "layer":[
  {"data":{"name":"f8"},"mark":{"type":"line","color":"#2e8b2e","strokeWidth":1},
   "encoding":{"x":{"field":"x","type":"quantitative","scale":{"domain":[1,133],"nice":false,"zero":false},"axis":{"orient":"bottom","values":[50,100],"format":"d","title":null}},
    "y":{"field":"y","type":"quantitative","scale":{"domain":[1.5,5.0],"nice":false,"zero":false},"axis":{"values":[1.5,2.0,2.5,3.0,3.5,4.0,4.5,5.0],"format":".1f","title":"Residuals"}}}},
  {"data":{"values":[{}]},"mark":{"type":"text","text":"Bandwidth=20","align":"right","baseline":"top","dx":-1.5,"dy":1.5},
   "encoding":{"x":{"datum":133,"type":"quantitative","axis":{"orient":"top","title":"Frequency domain","labels":false,"ticks":false,"domain":false,"grid":false}},"y":{"datum":5.0,"type":"quantitative","axis":{"values":[1.5,2.0,2.5,3.0,3.5,4.0,4.5,5.0],"format":".1f","title":"Residuals"}}}}
 ]},
{"width":75,"height":45,"title":{"text":"9: 1-year Treasury constant maturity rate","dx":62.5},
 "layer":[
  {"data":{"name":"t9"},"mark":{"type":"line","color":"#1414e6","strokeWidth":1.4},
   "encoding":{"x":{"field":"x","type":"quantitative","scale":{"domain":[1,656],"nice":false,"zero":false},"axis":{"orient":"bottom","values":[250,500],"format":"d","title":null}},
    "y":{"field":"y","type":"quantitative","scale":{"domain":[2.8,4.0],"nice":false,"zero":false},"axis":{"values":[2.8,3.0,3.2,3.4,3.6,3.8,4.0],"format":".1f","title":"Percent, daily"}}}},
  {"data":{"values":[{}]},"mark":{"type":"text","text":"1962-01-02 to 2013-11-07\nN=656","lineBreak":"\n","align":"left","baseline":"top","dx":1.5,"dy":1.5},
   "encoding":{"x":{"datum":1,"type":"quantitative","axis":{"orient":"top","title":"Time domain","labels":false,"ticks":false,"domain":false,"grid":false}},"y":{"datum":4.0,"type":"quantitative","axis":{"values":[2.8,3.0,3.2,3.4,3.6,3.8,4.0],"format":".1f","title":"Percent, daily"}}}}
 ]},
{"width":75,"height":45,
 "layer":[
  {"data":{"name":"f9"},"mark":{"type":"line","color":"#2e8b2e","strokeWidth":1},
   "encoding":{"x":{"field":"x","type":"quantitative","scale":{"domain":[1,328],"nice":false,"zero":false},"axis":{"orient":"bottom","values":[100,200,300],"format":"d","title":null}},
    "y":{"field":"y","type":"quantitative","scale":{"domain":[0,60],"nice":false,"zero":false},"axis":{"values":[0,10,20,30,40,50,60],"format":"d","title":"Residuals"}}}},
  {"data":{"values":[{}]},"mark":{"type":"text","text":"Bandwidth=20","align":"right","baseline":"top","dx":-1.5,"dy":1.5},
   "encoding":{"x":{"datum":328,"type":"quantitative","axis":{"orient":"top","title":"Frequency domain","labels":false,"ticks":false,"domain":false,"grid":false}},"y":{"datum":60,"type":"quantitative","axis":{"values":[0,10,20,30,40,50,60],"format":"d","title":"Residuals"}}}}
 ]},
{"width":75,"height":45,"title":{"text":"10: 10-year Treasury constant maturity rate","dx":55.5},
 "layer":[
  {"data":{"name":"t10"},"mark":{"type":"line","color":"#1414e6","strokeWidth":1.4},
   "encoding":{"x":{"field":"x","type":"quantitative","scale":{"domain":[1,644],"nice":false,"zero":false},"axis":{"orient":"bottom","values":[250,500],"format":"d","title":null}},
    "y":{"field":"y","type":"quantitative","scale":{"domain":[3.7,4.3],"nice":false,"zero":false},"axis":{"values":[3.7,3.8,3.9,4.0,4.1,4.2,4.3],"format":".1f","title":"Percent, daily"}}}},
  {"data":{"values":[{}]},"mark":{"type":"text","text":"1962-01-02 to 2013-11-07\nN=644","lineBreak":"\n","align":"left","baseline":"top","dx":1.5,"dy":1.5},
   "encoding":{"x":{"datum":1,"type":"quantitative","axis":{"orient":"top","title":"Time domain","labels":false,"ticks":false,"domain":false,"grid":false}},"y":{"datum":4.3,"type":"quantitative","axis":{"values":[3.7,3.8,3.9,4.0,4.1,4.2,4.3],"format":".1f","title":"Percent, daily"}}}}
 ]},
{"width":75,"height":45,
 "layer":[
  {"data":{"name":"f10"},"mark":{"type":"line","color":"#2e8b2e","strokeWidth":1},
   "encoding":{"x":{"field":"x","type":"quantitative","scale":{"domain":[1,322],"nice":false,"zero":false},"axis":{"orient":"bottom","values":[100,200,300],"format":"d","title":null}},
    "y":{"field":"y","type":"quantitative","scale":{"domain":[0,40],"nice":false,"zero":false},"axis":{"values":[0,5,10,15,20,25,30,35,40],"format":"d","title":"Residuals"}}}},
  {"data":{"values":[{}]},"mark":{"type":"text","text":"Bandwidth=20","align":"right","baseline":"top","dx":-1.5,"dy":1.5},
   "encoding":{"x":{"datum":322,"type":"quantitative","axis":{"orient":"top","title":"Frequency domain","labels":false,"ticks":false,"domain":false,"grid":false}},"y":{"datum":40,"type":"quantitative","axis":{"values":[0,5,10,15,20,25,30,35,40],"format":"d","title":"Residuals"}}}}
 ]},
{"width":75,"height":45,"title":{"text":"11: Moody’s seasoned Aaa corporate bond yield","dx":49.5},
 "layer":[
  {"data":{"name":"t11"},"mark":{"type":"line","color":"#1414e6","strokeWidth":1.4},
   "encoding":{"x":{"field":"x","type":"quantitative","scale":{"domain":[1,164],"nice":false,"zero":false},"axis":{"orient":"bottom","values":[50,100,150],"format":"d","title":null}},
    "y":{"field":"y","type":"quantitative","scale":{"domain":[11.2,13.2],"nice":false,"zero":false},"axis":{"values":[11.2,11.6,12.0,12.4,12.8,13.2],"format":".1f","title":"Percent, daily"}}}},
  {"data":{"values":[{}]},"mark":{"type":"text","text":"1983-01-03 to 2013-11-07\nN=164","lineBreak":"\n","align":"left","baseline":"top","dx":1.5,"dy":1.5},
   "encoding":{"x":{"datum":1,"type":"quantitative","axis":{"orient":"top","title":"Time domain","labels":false,"ticks":false,"domain":false,"grid":false}},"y":{"datum":13.2,"type":"quantitative","axis":{"values":[11.2,11.6,12.0,12.4,12.8,13.2],"format":".1f","title":"Percent, daily"}}}}
 ]},
{"width":75,"height":45,
 "layer":[
  {"data":{"name":"f11"},"mark":{"type":"line","color":"#2e8b2e","strokeWidth":1},
   "encoding":{"x":{"field":"x","type":"quantitative","scale":{"domain":[1,82],"nice":false,"zero":false},"axis":{"orient":"bottom","values":[25,50,75],"format":"d","title":null}},
    "y":{"field":"y","type":"quantitative","scale":{"domain":[17,25],"nice":false,"zero":false},"axis":{"values":[17,18,19,20,21,22,23,24,25],"format":"d","title":"Residuals"}}}},
  {"data":{"values":[{}]},"mark":{"type":"text","text":"Bandwidth=20","align":"right","baseline":"top","dx":-1.5,"dy":1.5},
   "encoding":{"x":{"datum":82,"type":"quantitative","axis":{"orient":"top","title":"Frequency domain","labels":false,"ticks":false,"domain":false,"grid":false}},"y":{"datum":25,"type":"quantitative","axis":{"values":[17,18,19,20,21,22,23,24,25],"format":"d","title":"Residuals"}}}}
 ]},
{"width":75,"height":45,"title":{"text":"12: Index of consumer sentiments","dx":40.5},
 "layer":[
  {"data":{"name":"t12"},"mark":{"type":"line","color":"#1414e6","strokeWidth":1.4},
   "encoding":{"x":{"field":"x","type":"quantitative","scale":{"domain":[1,424],"nice":false,"zero":false},"axis":{"orient":"bottom","values":[100,200,300,400],"format":"d","title":null}},
    "y":{"field":"y","type":"quantitative","scale":{"domain":[50,120],"nice":false,"zero":false},"axis":{"values":[50,60,70,80,90,100,110,120],"format":"d","title":"Index, monthly"}}}},
  {"data":{"values":[{}]},"mark":{"type":"text","text":"Jan/1978-Apr/2013\nN=424","lineBreak":"\n","align":"left","baseline":"top","dx":1.5,"dy":1.5},
   "encoding":{"x":{"datum":1,"type":"quantitative","axis":{"orient":"top","title":"Time domain","labels":false,"ticks":false,"domain":false,"grid":false}},"y":{"datum":120,"type":"quantitative","axis":{"values":[50,60,70,80,90,100,110,120],"format":"d","title":"Index, monthly"}}}}
 ]},
{"width":75,"height":45,
 "layer":[
  {"data":{"name":"f12"},"mark":{"type":"line","color":"#2e8b2e","strokeWidth":1},
   "encoding":{"x":{"field":"x","type":"quantitative","scale":{"domain":[1,212],"nice":false,"zero":false},"axis":{"orient":"bottom","values":[50,100,150,200],"format":"d","title":null}},
    "y":{"field":"y","type":"quantitative","scale":{"domain":[0,700],"nice":false,"zero":false},"axis":{"values":[0,100,200,300,400,500,600,700],"format":"d","title":"Residuals"}}}},
  {"data":{"values":[{}]},"mark":{"type":"text","text":"Bandwidth=20","align":"right","baseline":"top","dx":-1.5,"dy":1.5},
   "encoding":{"x":{"datum":212,"type":"quantitative","axis":{"orient":"top","title":"Frequency domain","labels":false,"ticks":false,"domain":false,"grid":false}},"y":{"datum":700,"type":"quantitative","axis":{"values":[0,100,200,300,400,500,600,700],"format":"d","title":"Residuals"}}}}
 ]},
{"width":75,"height":45,"title":{"text":"13: Current economic conditions index","dx":56.5},
 "layer":[
  {"data":{"name":"t13"},"mark":{"type":"line","color":"#1414e6","strokeWidth":1.4},
   "encoding":{"x":{"field":"x","type":"quantitative","scale":{"domain":[1,424],"nice":false,"zero":false},"axis":{"orient":"bottom","values":[100,200,300,400],"format":"d","title":null}},
    "y":{"field":"y","type":"quantitative","scale":{"domain":[50,130],"nice":false,"zero":false},"axis":{"values":[50,60,70,80,90,100,110,120,130],"format":"d","title":"Index, monthly"}}}},
  {"data":{"values":[{}]},"mark":{"type":"text","text":"Jan/1978-Apr/2013\nN=424","lineBreak":"\n","align":"left","baseline":"top","dx":1.5,"dy":1.5},
   "encoding":{"x":{"datum":1,"type":"quantitative","axis":{"orient":"top","title":"Time domain","labels":false,"ticks":false,"domain":false,"grid":false}},"y":{"datum":130,"type":"quantitative","axis":{"values":[50,60,70,80,90,100,110,120,130],"format":"d","title":"Index, monthly"}}}}
 ]},
{"width":75,"height":45,
 "layer":[
  {"data":{"name":"f13"},"mark":{"type":"line","color":"#2e8b2e","strokeWidth":1},
   "encoding":{"x":{"field":"x","type":"quantitative","scale":{"domain":[1,212],"nice":false,"zero":false},"axis":{"orient":"bottom","values":[50,100,150,200],"format":"d","title":null}},
    "y":{"field":"y","type":"quantitative","scale":{"domain":[0,700],"nice":false,"zero":false},"axis":{"values":[0,100,200,300,400,500,600,700],"format":"d","title":"Residuals"}}}},
  {"data":{"values":[{}]},"mark":{"type":"text","text":"Bandwidth=20","align":"right","baseline":"top","dx":-1.5,"dy":1.5},
   "encoding":{"x":{"datum":212,"type":"quantitative","axis":{"orient":"top","title":"Frequency domain","labels":false,"ticks":false,"domain":false,"grid":false}},"y":{"datum":700,"type":"quantitative","axis":{"values":[0,100,200,300,400,500,600,700],"format":"d","title":"Residuals"}}}}
 ]}
],
"config": {
 "font": "Liberation Serif",
 "view": {"stroke": "#a0a0a0", "strokeWidth": 0.7},
 "axis": {"labelFontSize": 5.5, "labelFont": "Liberation Serif", "titleFont": "Liberation Serif", "titleFontSize": 5, "titleFontWeight": "normal", "labelColor": "#333", "titleColor": "#333", "grid": true, "gridColor": "#dcdcdc", "gridWidth": 0.5, "domain": false, "tickSize": 2, "tickColor": "#999", "tickWidth": 0.5, "labelPadding": 1, "titlePadding": 2, "labelFlush": false, "labelOverlap": false},
 "axisTop": {"titleFontSize": 6, "titlePadding": 3},
 "title": {"font": "Liberation Serif", "fontSize": 8, "fontWeight": "normal", "anchor": "middle", "frame": "group", "offset": 5, "color": "#111"},
 "text": {"font": "Liberation Serif", "fontSize": 5, "fontStyle": "italic", "color": "#222"},
 "line": {"strokeJoin": "round"}
}
}
